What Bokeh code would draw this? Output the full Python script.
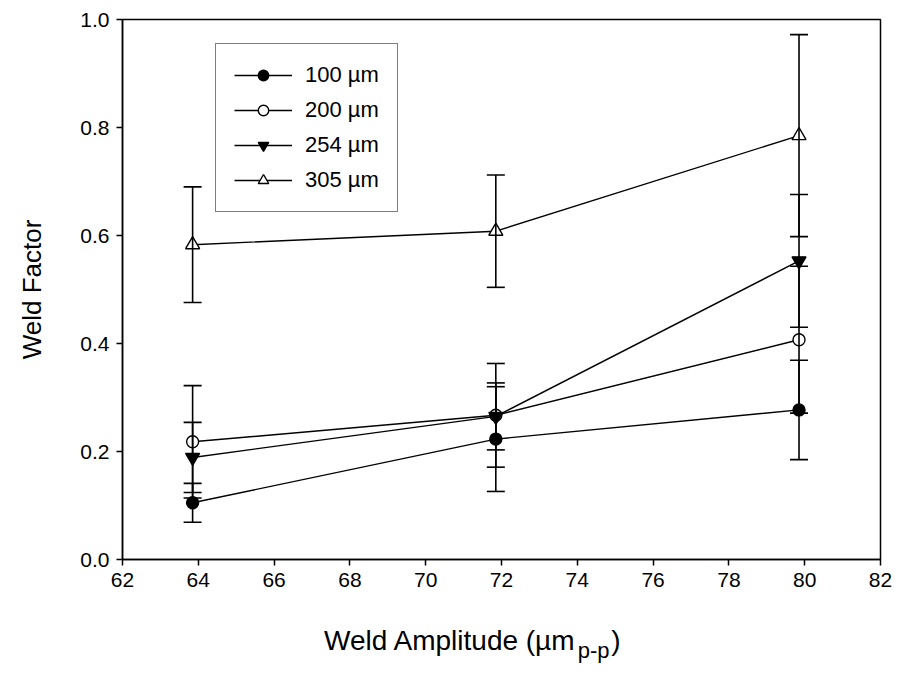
from bokeh.plotting import figure
from bokeh.models import (ColumnDataSource, Whisker, TeeHead, Legend, LegendItem,
                          FixedTicker, NumeralTickFormatter, Range1d)
from bokeh.layouts import column
from bokeh.core.properties import value
from bokeh.embed import file_html
from bokeh.resources import INLINE

# ---- data ----
amplitude = [63.85, 71.85, 79.85]
series_names = ["100 µm", "200 µm", "254 µm", "305 µm"]
wf_100 = [0.105, 0.223, 0.277]
err_100 = [0.036, 0.097, 0.092]
wf_200 = [0.218, 0.267, 0.407]
err_200 = [0.104, 0.096, 0.136]
wf_254 = [0.189, 0.265, 0.553]
err_254 = [0.065, 0.062, 0.123]
wf_305 = [0.583, 0.608, 0.785]
err_305 = [0.107, 0.104, 0.187]
x_ticks = [62, 64, 66, 68, 70, 72, 74, 76, 78, 80, 82]
y_ticks = [0.0, 0.2, 0.4, 0.6, 0.8, 1.0]
x_title_main = "Weld Amplitude (µm"
x_title_sub = "p-p"
x_title_end = ")"

FONT = "Liberation Sans"

p = figure(width=904, height=600, output_backend="svg", toolbar_location=None,
           x_range=Range1d(62, 82), y_range=Range1d(0, 1.0))
p.min_border_left = 122
p.min_border_right = 24
p.min_border_top = 19
p.min_border_bottom = 41
p.background_fill_color = "white"
p.border_fill_color = "white"
p.outline_line_color = "black"
p.outline_line_width = 1.5
p.grid.visible = False

for ax in (p.xaxis[0], p.yaxis[0]):
    ax.axis_line_color = "black"
    ax.axis_line_width = 1.5
    ax.major_tick_line_color = "black"
    ax.major_tick_line_width = 1.5
    ax.major_tick_in = 0
    ax.major_tick_out = 6
    ax.minor_tick_line_color = None
    ax.major_label_text_font = FONT
    ax.major_label_text_font_size = "21px"
    ax.major_label_text_color = "black"

p.xaxis.ticker = FixedTicker(ticks=x_ticks)
p.yaxis.ticker = FixedTicker(ticks=y_ticks)
p.yaxis.formatter = NumeralTickFormatter(format="0.0")
p.xaxis.major_label_standoff = 7
p.yaxis.major_label_standoff = 7

p.yaxis.axis_label = "Weld Factor"
p.yaxis.axis_label_text_font = FONT
p.yaxis.axis_label_text_font_size = "26px"
p.yaxis.axis_label_text_font_style = "normal"
p.yaxis.axis_label_text_color = "black"
p.yaxis.axis_label_standoff = 30

series = [
    (wf_100, err_100, "circle", "black"),
    (wf_200, err_200, "circle", "white"),
    (wf_254, err_254, "inverted_triangle", "black"),
    (wf_305, err_305, "triangle", "white"),
]

items = []
for name, (vals, errs, marker, fill) in zip(series_names, series):
    src = ColumnDataSource(dict(
        x=amplitude, y=vals,
        lo=[v - e for v, e in zip(vals, errs)],
        hi=[v + e for v, e in zip(vals, errs)],
    ))
    w = Whisker(source=src, base="x", lower="lo", upper="hi", dimension="height",
                line_color="black", line_width=1.6,
                upper_head=TeeHead(size=18, line_color="black", line_width=1.6),
                lower_head=TeeHead(size=18, line_color="black", line_width=1.6),
                level="glyph")
    p.add_layout(w)
    ln = p.line("x", "y", source=src, line_color="black", line_width=1.4)
    sc = p.scatter("x", "y", source=src, marker=marker,
                   size=12 if "triangle" not in marker else 14,
                   fill_color=fill, line_color="black", line_width=1.4)
    items.append(LegendItem(label=name, renderers=[ln, sc]))

legend = Legend(items=items, location=(93, 347), padding=18, spacing=9,
                glyph_width=58, glyph_height=26, label_height=26, label_standoff=13,
                label_text_font=FONT, label_text_font_size="22px",
                label_text_color="black",
                border_line_color="black", border_line_width=1.5,
                background_fill_color="white", background_fill_alpha=1.0)
p.add_layout(legend)

# x axis title with subscript, in a strip below the chart (pixel coordinates)
t = figure(width=904, height=75, output_backend="svg", toolbar_location=None,
           x_range=Range1d(0, 904), y_range=Range1d(0, 75),
           x_axis_type=None, y_axis_type=None, min_border=0)
t.outline_line_color = None
t.grid.visible = False
t.background_fill_color = "white"
t.border_fill_color = "white"
t.text(x=[541], y=[35], text=[x_title_main], text_align="right", text_baseline="middle",
       text_font=value(FONT), text_font_size="28px", text_color="black")
t.text(x=[543], y=[25], text=[x_title_sub], text_align="left", text_baseline="middle",
       text_font=value(FONT), text_font_size="22px", text_color="black")
t.text(x=[583], y=[35], text=[x_title_end], text_align="left", text_baseline="middle",
       text_font=value(FONT), text_font_size="28px", text_color="black")

layout = column(p, t, spacing=0)
open("out.html", "w").write(file_html(layout, INLINE))
